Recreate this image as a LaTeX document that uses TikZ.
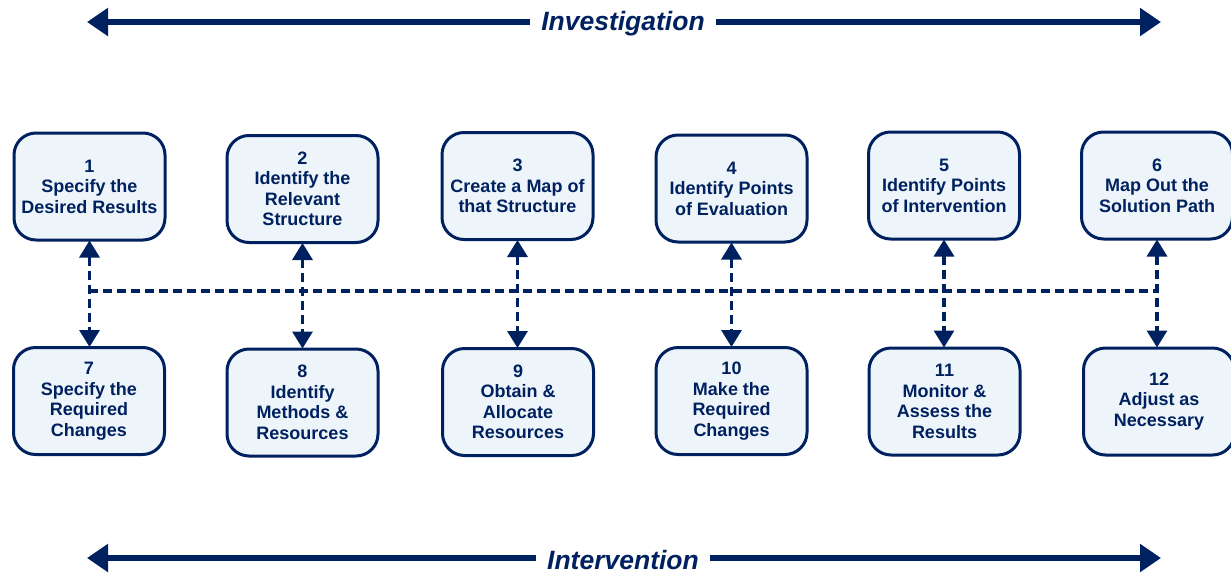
\documentclass[tikz,border=0pt]{standalone}
\usepackage{fontspec}
\setmainfont{Liberation Sans}
\usetikzlibrary{arrows.meta}
\definecolor{navy}{RGB}{0,33,96}
\definecolor{boxfill}{RGB}{238,245,250}
\tikzset{
  stepbox/.style={draw=navy, line width=3pt, fill=boxfill, rounded corners=22pt,
    minimum width=151pt, minimum height=107pt, align=center, text=navy,
    font=\bfseries\fontsize{18}{20.5}\selectfont, inner sep=2pt},
  link/.style={draw=navy, line width=3.3pt, dash pattern=on 9pt off 5pt,
    {Triangle[width=20pt 0,length=17pt 0]}-{Triangle[width=20pt 0,length=17pt 0]}, shorten <=-1pt, shorten >=-1pt},
  bus/.style={draw=navy, line width=3.3pt, dash pattern=on 9pt off 5pt},
  bigarrow/.style={draw=navy, line width=6.5pt, {Triangle[width=27pt 0,length=21pt 0]}-{Triangle[width=27pt 0,length=21pt 0]}},
  phase/.style={fill=white, text=navy, inner xsep=11pt, inner ysep=2pt,
    font=\bfseries\itshape\fontsize{26.5}{30}\selectfont}
}
\begin{document}
\begin{tikzpicture}[x=1pt,y=-1pt]
\useasboundingbox (0,0) rectangle (1231,573);
% top row
\node[stepbox] (n1) at (89.5,186.5) {1\\Specify the\\Desired Results};
\node[stepbox] (n2) at (302.5,189) {2\\Identify the\\Relevant\\Structure};
\node[stepbox] (n3) at (517.5,186) {3\\Create a Map of\\that Structure};
\node[stepbox] (n4) at (731.5,188.5) {4\\Identify Points\\of Evaluation};
\node[stepbox] (n5) at (944,185.5) {5\\Identify Points\\of Intervention};
\node[stepbox] (n6) at (1157,185.5) {6\\Map Out the\\Solution Path};
% bottom row
\node[stepbox] (n7) at (89,401) {7\\Specify the\\Required\\Changes};
\node[stepbox] (n8) at (302.5,402.5) {8\\Identify\\Methods \&\\Resources};
\node[stepbox] (n9) at (518,402) {9\\Obtain \&\\Allocate\\Resources};
\node[stepbox] (n10) at (731.5,401) {10\\Make the\\Required\\Changes};
\node[stepbox] (n11) at (944.5,401.5) {11\\Monitor \&\\Assess the\\Results};
\node[stepbox] (n12) at (1159,401.5) {12\\Adjust as\\Necessary};
% bus line
\coordinate (hl) at (89,291);
\coordinate (hr) at (1158,291);
\draw[bus] (hl) -- (hr);
% vertical links
\foreach \a/\b in {n1/n7,n2/n8,n3/n9,n4/n10,n5/n11,n6/n12}
  \draw[link] (\a.south) -- (\a.south |- \b.north);
% phase arrows
\coordinate (tl) at (87,22);
\coordinate (tr) at (1161,22);
\draw[bigarrow] (tl) -- (tr);
\node[phase] (inv) at (623,24) {Investigation};
\coordinate (bl) at (87,558);
\coordinate (br) at (1161,558);
\draw[bigarrow] (bl) -- (br);
\node[phase] (int) at (623,560) {Intervention};
\end{tikzpicture}
\end{document}
